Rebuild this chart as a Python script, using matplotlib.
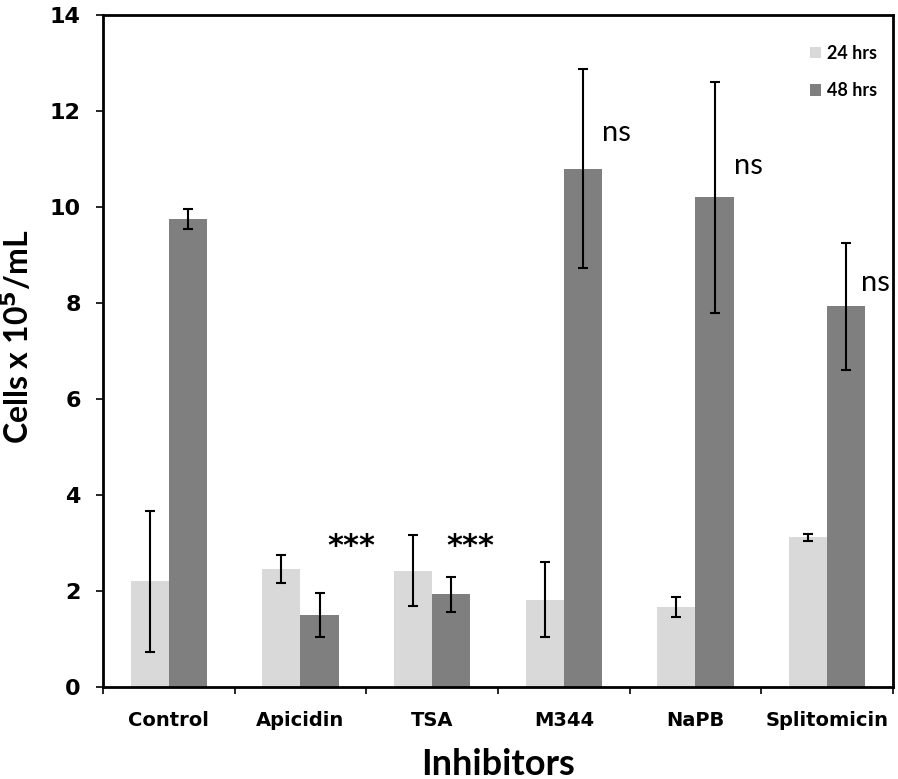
# Cell counts after 24 / 48 hrs treatment with HDAC inhibitors

import matplotlib
matplotlib.use("Agg")
import matplotlib.pyplot as plt
import numpy as np

categories = ["Control", "Apicidin", "TSA", "M344", "NaPB", "Splitomicin"]
mean_24 = [2.2, 2.45, 2.42, 1.82, 1.67, 3.12]
err_24 = [1.47, 0.29, 0.74, 0.78, 0.21, 0.07]
mean_48 = [9.75, 1.5, 1.93, 10.8, 10.2, 7.93]
err_48 = [0.2, 0.45, 0.37, 2.08, 2.4, 1.32]

# significance marks: (category index, text, y value)
sig_idx = [1, 2, 3, 4, 5]
sig_text = ["***", "***", "ns", "ns", "ns"]
sig_y = [2.92, 2.92, 11.55, 10.85, 8.42]

plt.rcParams["font.family"] = ["Lato", "DejaVu Sans"]

fig = plt.figure(figsize=(8.98, 7.79), dpi=100)
ax = fig.add_axes([0.1147, 0.1181, 0.8797, 0.8626])

x = np.arange(len(categories)) + 0.5
w = 0.29

ax.bar(x - w / 2, mean_24, w, color="#d9d9d9", label="24 hrs", zorder=2)
ax.bar(x + w / 2, mean_48, w, color="#7f7f7f", label="48 hrs", zorder=2)
ax.errorbar(x - w / 2, mean_24, yerr=err_24, fmt="none", ecolor="black",
            elinewidth=1.5, capsize=3.8, capthick=1.5, zorder=3)
ax.errorbar(x + w / 2, mean_48, yerr=err_48, fmt="none", ecolor="black",
            elinewidth=1.5, capsize=3.8, capthick=1.5, zorder=3)

# annotations
for i, t, yv in zip(sig_idx, sig_text, sig_y):
    if t == "***":
        dx = 0.39 if i == 1 else 0.29
        ax.text(x[i] + dx, yv, t, ha="center", va="center",
                fontsize=22, fontweight="bold", family="DejaVu Sans")
    else:
        dx = 0.37 if i == 5 else 0.40
        ax.text(x[i] + dx, yv, t, ha="center", va="center",
                fontsize=21)

ax.set_xlim(0, len(categories))
ax.set_ylim(0, 14)
ax.set_yticks(np.arange(0, 15, 2))
ax.set_xticks(np.arange(0, len(categories) + 1))
ax.set_xticklabels([])
ax.set_xticks(x, minor=True)
ax.set_xticklabels(categories, minor=True)
ax.tick_params(axis="x", which="minor", length=0, pad=17)
ax.tick_params(axis="x", which="major", direction="out", length=5, width=1.2)
ax.tick_params(axis="y", direction="out", length=5, width=1.2, pad=11)
for lab in ax.get_xticklabels(minor=True):
    lab.set_fontweight("bold")
    lab.set_fontsize(14)
    lab.set_family("DejaVu Sans")
for lab in ax.get_yticklabels():
    lab.set_fontweight("bold")
    lab.set_fontsize(16)
    lab.set_family("DejaVu Sans")

for s in ax.spines.values():
    s.set_linewidth(2)
    s.set_color("black")

ax.set_ylabel(r"Cells x 10$^{\mathbf{5}}$/mL", fontsize=23, fontweight="bold")
ax.yaxis.set_label_coords(-0.087, 0.521)
ax.set_xlabel("Inhibitors", fontsize=26, fontweight="bold", labelpad=13)

leg = ax.legend(loc="upper right", frameon=False, fontsize=13,
                handlelength=0.6, handleheight=0.6, handletextpad=0.3,
                labelspacing=1.15, bbox_to_anchor=(1.0, 0.98))
for t in leg.get_texts():
    t.set_fontweight("bold")

fig.savefig("out.png", dpi=100)
